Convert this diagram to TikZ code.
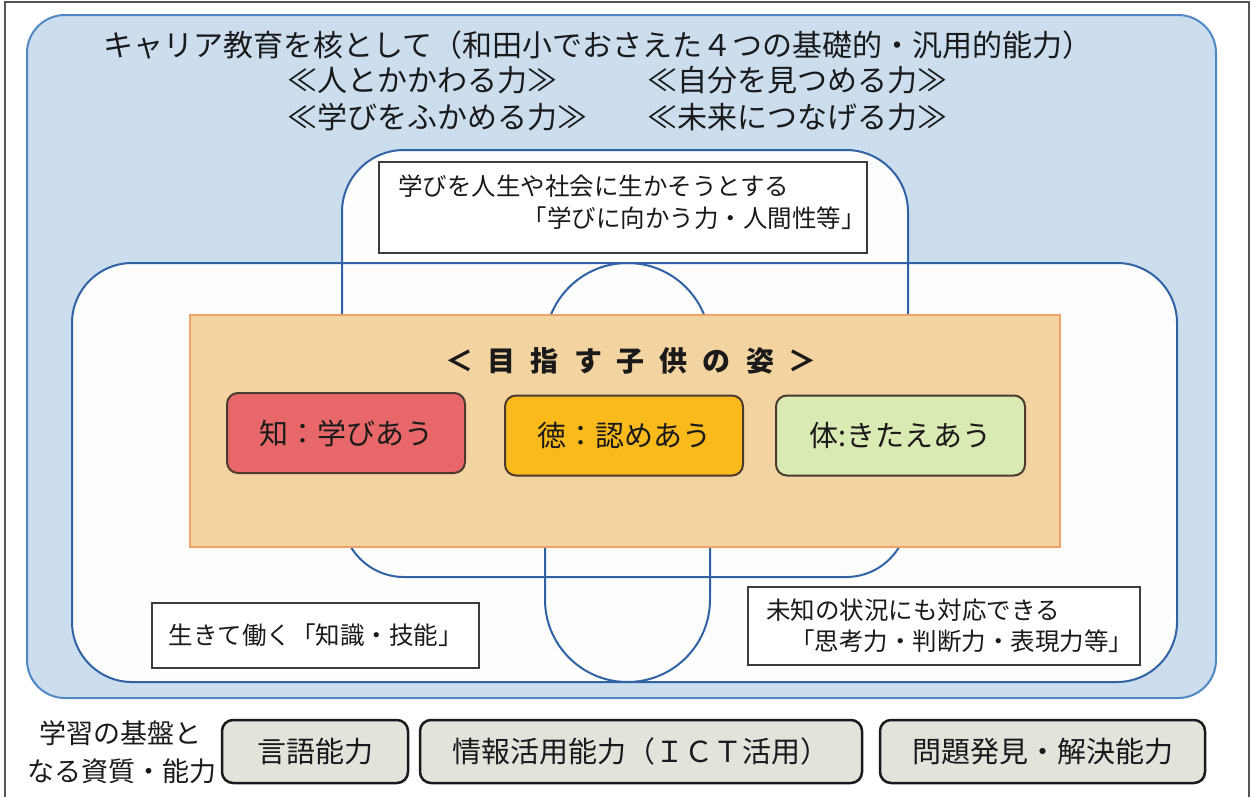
\documentclass[tikz,border=0pt]{standalone}
\usepackage{fontspec}
\setmainfont{Noto Sans CJK JP}
\definecolor{bluefill}{HTML}{CCDEEE}
\definecolor{blueedge}{HTML}{4F88C4}
\definecolor{innerline}{HTML}{2F63A6}
\definecolor{inwhite}{HTML}{FDFDFB}
\definecolor{orfill}{HTML}{F3D4A0}
\definecolor{oredge}{HTML}{EFA26A}
\definecolor{redbox}{HTML}{E8686A}
\definecolor{amberbox}{HTML}{FBBA1C}
\definecolor{greenbox}{HTML}{D9EAB3}
\definecolor{kidedge}{HTML}{4A3A30}
\definecolor{basefill}{HTML}{E3E3DB}
\definecolor{txt}{HTML}{1A1A1A}
\definecolor{framegray}{HTML}{555555}
\begin{document}
\begin{tikzpicture}[x=1pt,y=-1pt,
  every node/.style={text=txt},
  toptitle/.style={font=\fontsize{30}{36}\selectfont, inner sep=0pt},
  boxtext/.style={font=\fontsize{24.5}{30}\selectfont, inner sep=0pt},
  whitebox/.style={draw=txt!85, line width=2pt, fill=white, inner sep=0pt},
  kidbox/.style={draw=kidedge, line width=2pt, rounded corners=11pt, font=\fontsize{29}{34}\selectfont, minimum height=80pt},
  basebox/.style={draw=txt, fill=basefill, line width=2.5pt, rounded corners=11pt, font=\fontsize{29}{34}\selectfont, minimum height=63pt},
  innerstroke/.style={draw=innerline, line width=2pt}]
\useasboundingbox (0,0) rectangle (1252,796);
% outer frame
\draw[framegray, line width=1.2pt] (5,800) -- (5,2) -- (1249,2) -- (1249,800);
% blue area
\draw[fill=bluefill, draw=blueedge, line width=2pt, rounded corners=38pt] (27,15) rectangle (1216,698);
% white union fills
\fill[inwhite, rounded corners=62pt] (342,150) rectangle (908,577);
\fill[inwhite, rounded corners=60pt] (72,263) rectangle (1177,682);
\fill[inwhite] (545,345.5) arc[start angle=180, end angle=0, radius=82.5pt] -- (710,599.5) arc[start angle=0, end angle=-180, radius=82.5pt] -- cycle;
% outlines
\draw[innerstroke, rounded corners=62pt] (342,150) rectangle (908,577);
\draw[innerstroke, rounded corners=60pt] (72,263) rectangle (1177,682);
\draw[innerstroke] (545,345.5) arc[start angle=180, end angle=0, radius=82.5pt] -- (710,599.5) arc[start angle=0, end angle=-180, radius=82.5pt] -- cycle;
% top titles
\node[toptitle] (title) at (598,45) {キャリア教育を核として（和田小でおさえた４つの基礎的・汎用的能力）};
\node[toptitle, anchor=west] (hito) at (287,80) {≪人とかかわる力≫};
\node[toptitle, anchor=west] (jibun) at (647,80) {≪自分を見つめる力≫};
\node[toptitle, anchor=west] (manabi) at (287,117) {≪学びをふかめる力≫};
\node[toptitle, anchor=west] (mirai) at (647,117) {≪未来につなげる力≫};
% top text box
\node[whitebox, minimum width=488pt, minimum height=91pt] (topbox) at (623,207.5) {};
\node[boxtext, anchor=west] (top1) at (398,186) {学びを人生や社会に生かそうとする};
\node[boxtext, anchor=east] (top2) at (866,218) {「学びに向かう力・人間性等」};
% orange panel
\node[draw=oredge, fill=orfill, line width=1.5pt, minimum width=870pt, minimum height=232pt, inner sep=0pt] (panel) at (625,431) {};
\node[font=\fontsize{28}{34}\selectfont\bfseries, inner sep=0pt] (sugata) at (631,361) {＜\hspace{15pt}目\hspace{15pt}指\hspace{15pt}す\hspace{15pt}子\hspace{15pt}供\hspace{15pt}の\hspace{15pt}姿\hspace{15pt}＞};
\node[kidbox, fill=redbox, minimum width=238pt] (chi) at (346,433) {知：学びあう};
\node[kidbox, fill=amberbox, minimum width=238pt] (toku) at (624,435.5) {徳：認めあう};
\node[kidbox, fill=greenbox, minimum width=249pt] (tai) at (900.5,435.5) {体:きたえあう};
% bottom text boxes
\node[whitebox, minimum width=327pt, minimum height=65pt, font=\fontsize{24.5}{30}\selectfont] (chishiki) at (315.5,635.5) {生きて働く「知識・技能」};
\node[whitebox, minimum width=392pt, minimum height=78pt] (shiko) at (944,626) {};
\node[boxtext, anchor=west] (shiko1) at (766,610) {未知の状況にも対応できる};
\node[boxtext, anchor=west] (shiko2) at (790,641) {「思考力・判断力・表現力等」};
% bottom row
\node[font=\fontsize{27}{33}\selectfont, inner sep=0pt] (kiban1) at (120,733) {学習の基盤と};
\node[font=\fontsize{27}{33}\selectfont, inner sep=0pt] (kiban2) at (122,771) {なる資質・能力};
\node[basebox, minimum width=186pt] (gengo) at (315,751.5) {言語能力};
\node[basebox, minimum width=442pt] (joho) at (641,751.5) {情報活用能力（ＩＣＴ活用）};
\node[basebox, minimum width=325pt] (mondai) at (1042.5,751.5) {問題発見・解決能力};
\end{tikzpicture}
\end{document}
